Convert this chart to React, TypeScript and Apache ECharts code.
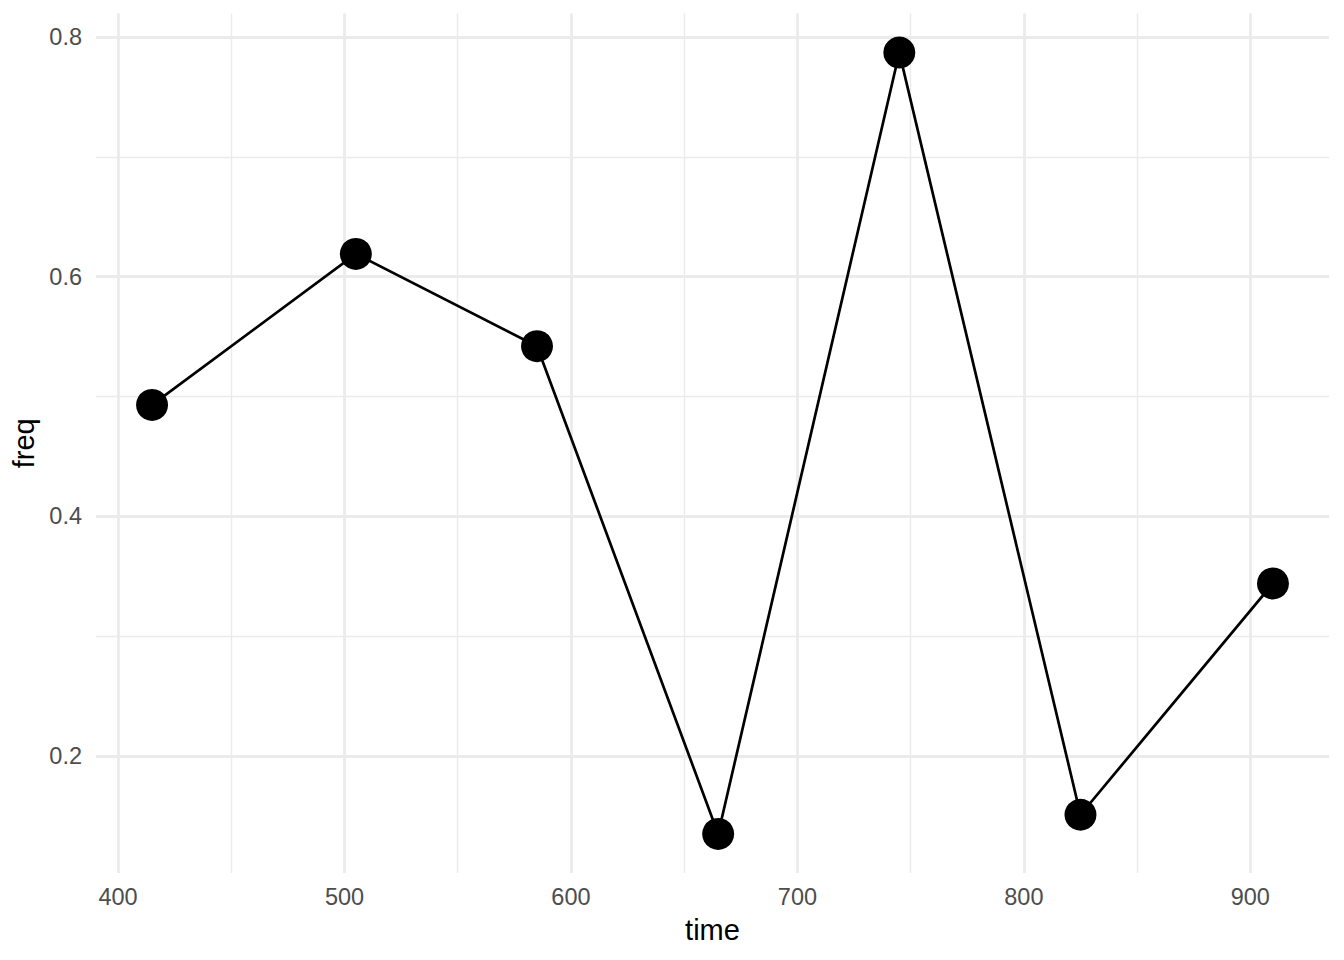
import React, { useEffect, useRef } from "react";
import * as echarts from "echarts";

const times = [415, 505, 585, 665, 745, 825, 910];
const freqs = [0.493, 0.619, 0.542, 0.135, 0.787, 0.151, 0.344];
const xTicks = [400, 500, 600, 700, 800, 900];
const xMinor = [450, 550, 650, 750, 850];
const yTicks = [0.2, 0.4, 0.6, 0.8];
const yMinor = [0.3, 0.5, 0.7];

const FONT = "'Liberation Sans', Arial, Helvetica, sans-serif";

export default function App() {
  const ref = useRef<HTMLDivElement>(null);
  useEffect(() => {
    document.body.style.margin = "0";
    if (!ref.current) return;
    const chart = echarts.init(ref.current, null, { renderer: "svg" });

    const xMinData = Math.min(...times);
    const xMaxData = Math.max(...times);
    const yMinData = Math.min(...freqs);
    const yMaxData = Math.max(...freqs);
    const xPad = (xMaxData - xMinData) * 0.05;
    const yPad = (yMaxData - yMinData) * 0.05;

    const major = { color: "#EBEBEB", width: 2.8, type: "solid" as const };
    const minor = { color: "#EBEBEB", width: 1.4, type: "solid" as const };

    const gridLines = [
      ...xTicks.map((v) => ({ xAxis: v, lineStyle: major })),
      ...xMinor.map((v) => ({ xAxis: v, lineStyle: minor })),
      ...yTicks.map((v) => ({ yAxis: v, lineStyle: major })),
      ...yMinor.map((v) => ({ yAxis: v, lineStyle: minor })),
    ];

    chart.setOption({
      animation: false,
      backgroundColor: "#FFFFFF",
      grid: { left: 96, right: 15, top: 13.5, bottom: 87, containLabel: false },
      xAxis: {
        type: "value",
        min: xMinData - xPad,
        max: xMaxData + xPad,
        name: "time",
        nameLocation: "middle",
        nameGap: 42,
        nameTextStyle: { color: "#000000", fontSize: 29, fontFamily: FONT },
        axisLine: { show: false },
        axisTick: { show: false },
        splitLine: { show: false },
        axisLabel: {
          customValues: xTicks,
          color: "#4D4D4D",
          fontSize: 23.5,
          fontFamily: FONT,
          margin: 12,
        },
      },
      yAxis: {
        type: "value",
        min: yMinData - yPad,
        max: yMaxData + yPad,
        name: "freq",
        nameLocation: "middle",
        nameGap: 54,
        nameTextStyle: { color: "#000000", fontSize: 29, fontFamily: FONT },
        axisLine: { show: false },
        axisTick: { show: false },
        splitLine: { show: false },
        axisLabel: {
          customValues: yTicks,
          color: "#4D4D4D",
          fontSize: 23.5,
          fontFamily: FONT,
          margin: 14,
          formatter: (v: number) => v.toFixed(1),
        },
      },
      series: [
        {
          type: "line",
          data: [],
          z: 1,
          silent: true,
          markLine: {
            silent: true,
            symbol: ["none", "none"],
            label: { show: false },
            animation: false,
            data: gridLines,
          },
        },
        {
          type: "line",
          z: 5,
          data: times.map((t, i) => [t, freqs[i]]),
          symbol: "circle",
          symbolSize: 32,
          showSymbol: true,
          itemStyle: { color: "#000000" },
          lineStyle: { color: "#000000", width: 2.7 },
        },
      ],
    });
    return () => chart.dispose();
  }, []);
  return <div ref={ref} style={{ width: 1344, height: 960 }} />;
}
